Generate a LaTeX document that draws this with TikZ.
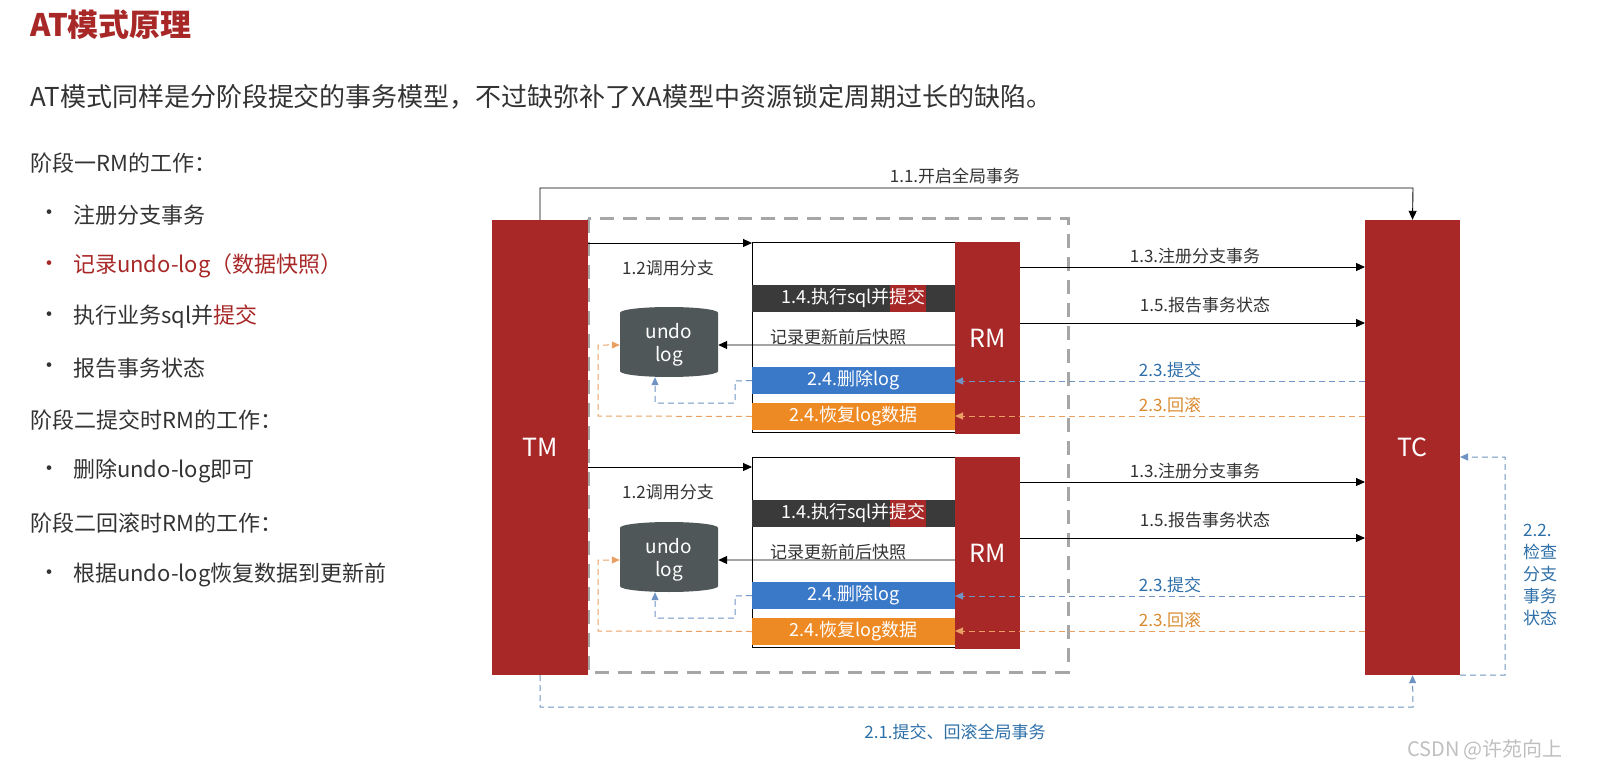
\documentclass[tikz,border=0pt]{standalone}
\usepackage{fontspec}
\setmainfont{Noto Sans CJK SC}
\usetikzlibrary{shapes.geometric,arrows.meta}
\definecolor{tred}{HTML}{A82828}
\definecolor{dbar}{HTML}{3A3A3A}
\definecolor{cyl}{HTML}{505758}
\definecolor{bbar}{HTML}{3A78C8}
\definecolor{obar}{HTML}{EE8A24}
\definecolor{bdash}{HTML}{6F93C2}
\definecolor{odash}{HTML}{E9A062}
\definecolor{blab}{HTML}{2E6FA8}
\definecolor{olab}{HTML}{D98A30}
\definecolor{txt}{HTML}{333333}
\tikzset{
 redbox/.style={fill=tred,draw=none,text=white,font=\fontsize{25}{27}\selectfont},
 lbl/.style={font=\fontsize{17}{19}\selectfont,text=txt,inner sep=1pt},
 bar/.style={minimum width=203pt,minimum height=27pt,inner sep=0,text=white,font=\fontsize{18}{20}\selectfont},
 arr/.style={-{Triangle[length=9pt,width=8pt]},draw=black,line width=0.9pt},
 barr/.style={-{Triangle[length=8pt,width=7pt]},draw=bdash,dashed,dash pattern=on 6pt off 4pt,line width=1pt},
 oarr/.style={-{Triangle[length=8pt,width=7pt]},draw=odash,dashed,dash pattern=on 6pt off 4pt,line width=1pt},
 listt/.style={anchor=west,font=\fontsize{22}{25}\selectfont,text=txt,inner sep=0},
}
\begin{document}
\begin{tikzpicture}[x=1pt,y=-1pt]
\useasboundingbox (0,0) rectangle (1614,778);
\node[anchor=west,text=tred,font=\fontsize{31}{33}\selectfont\bfseries,inner sep=0] (title) at (30,25) {AT模式原理};
\node[listt,font=\fontsize{26}{29}\selectfont] (sub) at (30,97) {AT模式同样是分阶段提交的事务模型，不过缺弥补了XA模型中资源锁定周期过长的缺陷。};
\node[listt] (h1) at (30,163) {阶段一RM的工作：};
\node[listt] (b1) at (38,215) {•};\node[listt] (t1) at (73,215) {注册分支事务};
\node[listt,text=tred] (b2) at (38,266) {•};\node[listt,text=tred] (t2) at (73,266) {记录undo-log（数据快照）};
\node[listt] (b3) at (38,317) {•};\node[listt] (t3) at (73,317) {执行业务sql并\textcolor{tred}{提交}};
\node[listt] (b4) at (38,368) {•};\node[listt] (t4) at (73,368) {报告事务状态};
\node[listt] (h2) at (30,420) {阶段二提交时RM的工作：};
\node[listt] (b5) at (38,471) {•};\node[listt] (t5) at (73,471) {删除undo-log即可};
\node[listt] (h3) at (30,523) {阶段二回滚时RM的工作：};
\node[listt] (b6) at (38,575) {•};\node[listt] (t6) at (73,575) {根据undo-log恢复数据到更新前};

\draw[draw=black!35,line width=3pt,dash pattern=on 14pt off 9pt] (588,219) rectangle (1068,672);
\node[redbox,minimum width=96pt,minimum height=455pt,inner sep=0] (tm) at (540,447.5) {TM};
\node[redbox,minimum width=95pt,minimum height=455pt,inner sep=0] (tc) at (1412.5,447.5) {TC};
\coordinate (c11a) at (540,188);\coordinate (c11b) at (1413,188);
\draw[arr] (tm.north) -- (c11a) -- (c11b) -- (tc.north);
\node[lbl] (l11) at (955,176) {1.1.开启全局事务};

\foreach \o/\k/\ty in {0/a/243,215/b/467}{
 \node[draw=black,line width=0.9pt,fill=white,minimum width=203pt,minimum height=190pt,inner sep=0] (wb\k) at (853.5,337+\o) {};
 \node[redbox,minimum width=65pt,minimum height=192pt,inner sep=0] (rm\k) at (987.5,338+\o) {RM};
 \coordinate (s12\k) at (588,\ty);
 \draw[arr] (s12\k) -- (752,\ty);
 \node[lbl] (l12\k) at (668,\ty+25) {1.2调用分支};
 \node[bar,fill=dbar] (b14\k) at (853.5,298.5+\o) {1.4.执行sql并\colorbox{tred}{\strut\kern-3pt提交\kern-3pt}};
 \node[cylinder,shape border rotate=90,aspect=0.25,fill=cyl,draw=none,minimum width=98pt,minimum height=70pt,text=white,align=center,font=\fontsize{19}{23}\selectfont,inner sep=0] (cy\k) at (669,345+\o) {undo\\log};
 \node[lbl] (lsn\k) at (838,337+\o) {记录更新前后快照};
 \coordinate (rs\k) at (955,345+\o);
 \draw[arr] (rs\k) -- (cy\k.east);
 \node[bar,fill=bbar] (bb\k) at (853.5,380.5+\o) {2.4.删除log};
 \node[bar,fill=obar] (ob\k) at (853.5,416.5+\o) {2.4.恢复log数据};
 \coordinate (p13\k) at (1020,267+\o);\coordinate (q13\k) at (1365,267+\o);
 \draw[arr] (p13\k) -- (q13\k);
 \node[lbl] (l13\k) at (1195,256+\o) {1.3.注册分支事务};
 \coordinate (p15\k) at (1020,323+\o);\coordinate (q15\k) at (1365,323+\o);
 \draw[arr] (p15\k) -- (q15\k);
 \node[lbl] (l15\k) at (1205,305+\o) {1.5.报告事务状态};
 \coordinate (p23\k) at (1365,381+\o);\coordinate (q23\k) at (955,381+\o);
 \draw[barr] (p23\k) -- (q23\k);
 \node[lbl,text=blab] (l23\k) at (1170,370+\o) {2.3.提交};
 \coordinate (p23o\k) at (1365,416+\o);\coordinate (q23o\k) at (955,416+\o);
 \draw[oarr] (p23o\k) -- (q23o\k);
 \node[lbl,text=olab] (l23o\k) at (1170,405+\o) {2.3.回滚};
 \draw[barr] (bb\k.west) -- (735,381+\o) -- (735,403+\o) -- (655,403+\o) -- (cy\k.south -| 655,0);
 \draw[oarr] (ob\k.west) -- (598,416+\o) -- (598,345+\o) -- (cy\k.west);
}
\draw[barr] (tc.south east) -- (1505,675) -- (1505,457) -- (1460,457);
\node[lbl,text=blab,align=left,anchor=north west,font=\fontsize{17}{22}\selectfont] (l22) at (1522,523) {2.2.\\检查\\分支\\事务\\状态};
\draw[barr] (tm.south) -- (540,707) -- (1413,707) -- (tc.south);
\node[lbl,text=blab] (l21) at (955,732) {2.1.提交、回滚全局事务};
\node[font=\fontsize{20}{22}\selectfont,text=black!25,inner sep=0] (wm) at (1485,750) {CSDN @许苑向上};
\end{tikzpicture}
\end{document}
